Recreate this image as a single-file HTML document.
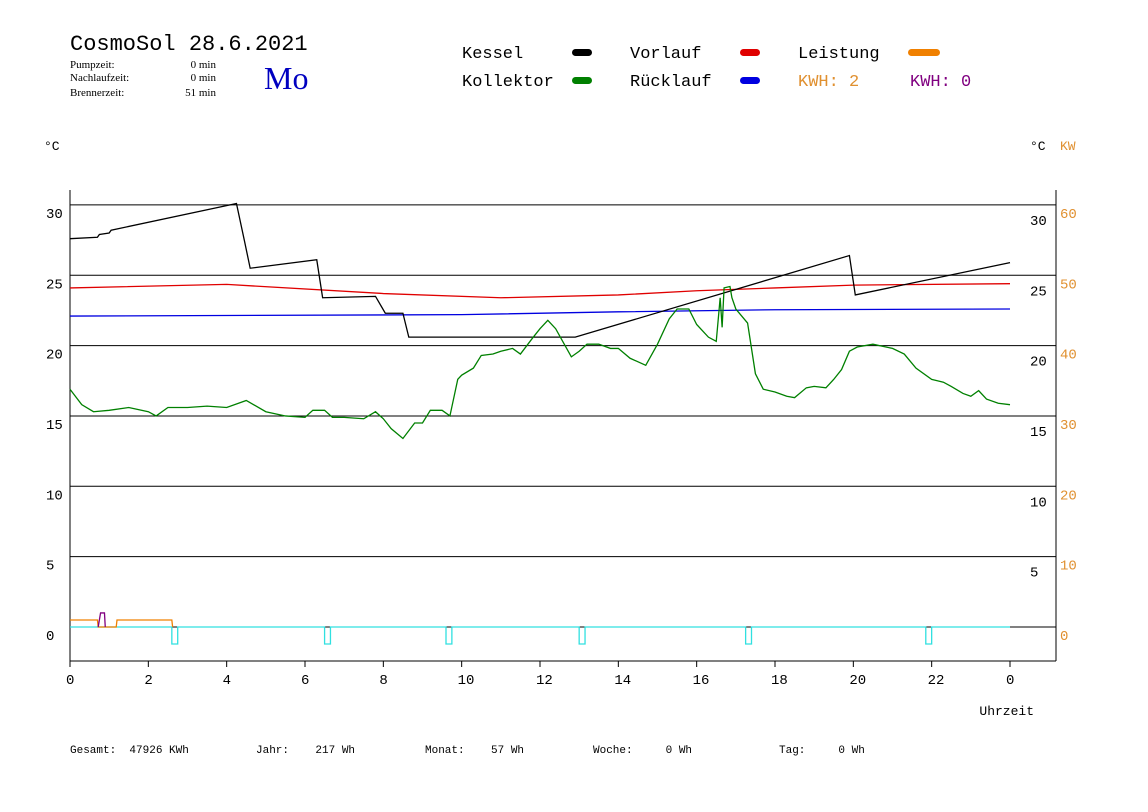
<!DOCTYPE html>
<html><head><meta charset="utf-8"><style>
body{margin:0;background:#fff;width:1148px;height:812px;overflow:hidden}
svg{display:block}
text{font-family:"Liberation Mono",monospace;white-space:pre}
.serif{font-family:"Liberation Serif",serif}
</style></head><body>
<svg width="1148" height="812" id="chart">
<text x="70" y="50" font-size="22" fill="#000">CosmoSol 28.6.2021</text>
<text x="70" y="68" font-size="11" class="serif">Pumpzeit:</text>
<text x="216" y="68" font-size="11" class="serif" text-anchor="end">0 min</text>
<text x="70" y="81" font-size="11" class="serif">Nachlaufzeit:</text>
<text x="216" y="81" font-size="11" class="serif" text-anchor="end">0 min</text>
<text x="70" y="96" font-size="11" class="serif">Brennerzeit:</text>
<text x="216" y="96" font-size="11" class="serif" text-anchor="end">51 min</text>
<text x="264" y="89" font-size="32" fill="#0000c0" class="serif">Mo</text>

<g font-size="17">
<text x="462" y="58">Kessel</text>
<rect x="572" y="49" width="20" height="7" rx="3.5" fill="#000"/>
<text x="462" y="86">Kollektor</text>
<rect x="572" y="77" width="20" height="7" rx="3.5" fill="#008000"/>
<text x="630" y="58">Vorlauf</text>
<rect x="740" y="49" width="20" height="7" rx="3.5" fill="#e00000"/>
<text x="630" y="86">Rücklauf</text>
<rect x="740" y="77" width="20" height="7" rx="3.5" fill="#0000e0"/>
<text x="798" y="58">Leistung</text>
<rect x="908" y="49" width="32" height="7" rx="3.5" fill="#f08000"/>
<text x="798" y="86" fill="#e09030">KWH: 2</text>
<text x="910" y="86" fill="#800080">KWH: 0</text>
</g>

<text x="44" y="150" font-size="13">°C</text>
<text x="1030" y="150" font-size="13">°C</text>
<text x="1060" y="150" font-size="13" fill="#e09030">KW</text>

<g id="axes"></g>
<g id="series"></g>

<text x="1034" y="715" font-size="13" text-anchor="end">Uhrzeit</text>
<g font-size="11">
<text x="70" y="753">Gesamt:  47926 KWh</text>
<text x="256" y="753">Jahr:    217 Wh</text>
<text x="425" y="753">Monat:    57 Wh</text>
<text x="593" y="753">Woche:     0 Wh</text>
<text x="779" y="753">Tag:     0 Wh</text>
</g>
</svg>
<script>
const tempTicks=[0,5,10,15,20,25,30];
const kwTicks=[0,10,20,30,40,50,60];
const hourTicks=[0,2,4,6,8,10,12,14,16,18,20,22,24];
const hourLabels=["0","2","4","6","8","10","12","14","16","18","20","22","0"];
const kesselH=[0,0.7,0.75,1.0,1.05,4.25,4.45,4.6,6.3,6.45,7.8,8.05,8.5,8.65,12.9,19.9,20.05,24];
const kesselV=[27.6,27.7,27.9,28.0,28.2,30.1,27.5,25.5,26.1,23.4,23.5,22.3,22.3,20.6,20.6,26.4,23.6,25.9];
const vorlaufH=[0,4,8,11,14,16,18,20,24];
const vorlaufV=[24.1,24.35,23.7,23.4,23.6,23.9,24.1,24.3,24.4];
const ruecklaufH=[0,10,14,18,24];
const ruecklaufV=[22.1,22.2,22.4,22.55,22.6];
const kollH=[0,0.3,0.6,1,1.5,2,2.2,2.5,3,3.5,4,4.5,5,5.5,6,6.2,6.5,6.7,7,7.5,7.8,8,8.2,8.5,8.8,9,9.2,9.5,9.7,9.9,10,10.3,10.5,10.8,11,11.3,11.5,11.8,12,12.2,12.4,12.6,12.8,13,13.2,13.5,13.8,14,14.3,14.7,15,15.3,15.5,15.8,16,16.3,16.5,16.6,16.65,16.7,16.85,16.9,17,17.3,17.5,17.7,18,18.3,18.5,18.8,19,19.3,19.5,19.7,19.9,20.1,20.5,21,21.3,21.6,22,22.3,22.5,22.8,23,23.2,23.4,23.7,24];
const kollV=[16.9,15.8,15.3,15.4,15.6,15.3,15.0,15.6,15.6,15.7,15.6,16.1,15.3,15.0,14.9,15.4,15.4,14.9,14.9,14.8,15.3,14.8,14.1,13.4,14.5,14.5,15.4,15.4,15.0,17.6,17.9,18.4,19.3,19.4,19.6,19.8,19.4,20.5,21.2,21.8,21.2,20.2,19.2,19.6,20.1,20.1,19.8,19.8,19.1,18.6,20.1,21.9,22.6,22.6,21.5,20.6,20.3,23.4,21.3,24.1,24.2,23.4,22.6,21.6,18.0,16.9,16.7,16.4,16.3,17.0,17.1,17.0,17.6,18.3,19.6,19.9,20.1,19.8,19.4,18.4,17.6,17.4,17.1,16.6,16.4,16.8,16.2,15.9,15.8];
const leistungH=[0,0.7,0.72,1.18,1.2,2.6,2.62];
const leistungKW=[1,1,0,0,1,1,0];
const purpleH=[0.72,0.78,0.8,0.88,0.9];
const purpleKW=[0,2,2,2,0];
const pumpStart=[2.6,6.5,9.6,13.0,17.25,21.85];
const pumpWidth=0.15;

const NS="http://www.w3.org/2000/svg";
const X=h=>70+h*(940/24);
const Y=v=>627-v*14.07;
const YK=k=>627-k*7.035;
function mk(tag,attrs,parent){const e=document.createElementNS(NS,tag);for(const k in attrs)e.setAttribute(k,attrs[k]);parent.appendChild(e);return e;}
const ax=document.getElementById('axes'), se=document.getElementById('series');
tempTicks.forEach((t,i)=>{
  const y=Y(t);
  const l=mk('line',{x1:70,x2:1056,y1:y,y2:y,stroke:'#000','stroke-width':1},ax);
  
  
  const a=mk('text',{x:46,y:y+13,'font-size':14},ax);a.textContent=t;
  
  
  if(t>0){const b=mk('text',{x:1030,y:y+20,'font-size':14},ax);b.textContent=t;
  
  }
});
kwTicks.forEach(k=>{
  const c=mk('text',{x:1060,y:YK(k)+13,'font-size':14,fill:'#e09030'},ax);c.textContent=k;
  
  
});
mk('line',{x1:70,x2:70,y1:190,y2:661,stroke:'#000'},ax);
mk('line',{x1:1056,x2:1056,y1:190,y2:661,stroke:'#000'},ax);
mk('line',{x1:70,x2:1056,y1:661,y2:661,stroke:'#000'},ax);
hourTicks.forEach((h,i)=>{
  const t=mk('line',{x1:X(h),x2:X(h),y1:661,y2:667,stroke:'#000'},ax);
  
  
  const l=mk('text',{x:X(h)-4,y:684,'font-size':14},ax);l.textContent=hourLabels[i];
  
  
});
function poly(H,V,yf,color,name,step){
  let pts=[];
  H.forEach((h,i)=>{ if(step&&i>0) pts.push(X(h)+','+yf(V[i-1])); pts.push(X(h)+','+yf(V[i])); });
  const p=mk('polyline',{points:pts.join(' '),fill:'none',stroke:color,'stroke-width':1.3},se);
  
  
}
poly(ruecklaufH,ruecklaufV,Y,'#0000e0','ruecklauf-line');
poly(vorlaufH,vorlaufV,Y,'#e00000','vorlauf-line');
poly(kesselH,kesselV,Y,'#000','kessel-line');
poly(kollH,kollV,Y,'#008000','kollektor-line');
let cp=[X(0)+','+Y(0)];
pumpStart.forEach(s=>{cp.push(X(s)+','+Y(0),X(s)+','+(Y(0)+17),X(s+pumpWidth)+','+(Y(0)+17),X(s+pumpWidth)+','+Y(0));});
cp.push(X(24)+','+Y(0));
const pc=mk('polyline',{points:cp.join(' '),fill:'none',stroke:'#30e0e0','stroke-width':1.3},se);


poly(leistungH,leistungKW,YK,'#f08000','leistung-line');
poly(purpleH,purpleKW,YK,'#800080','kwh-purple-line');
</script>
</body></html>
